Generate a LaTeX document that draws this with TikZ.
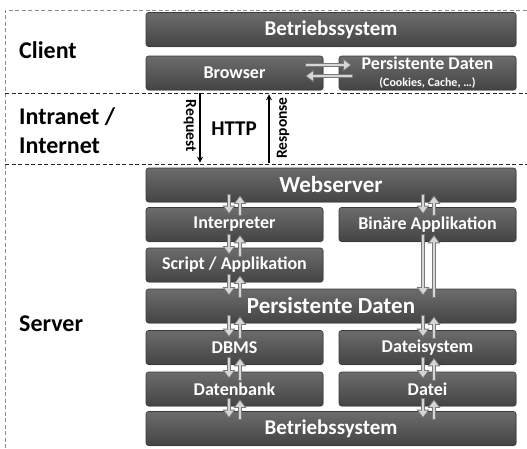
\documentclass[tikz,border=0pt]{standalone}
\usepackage{fontspec}
\setmainfont{Carlito}
\usetikzlibrary{arrows.meta,calc,shadows}
\definecolor{boxtop}{HTML}{6C6C6C}
\definecolor{boxbot}{HTML}{444444}
\definecolor{boxline}{HTML}{3A3A3A}
\definecolor{arrfill}{HTML}{D6D6D6}
\definecolor{arrline}{HTML}{7A7A7A}
\newcommand\fs[1]{\fontsize{#1}{#1}\selectfont\bfseries}
\newcommand\udarrows[4]{%
  \draw[garo] ($(#3,0 |- #1.south)+(0,-8)$) -- ($(#3,0 |- #2.north)+(0,7)$);
  \draw[gari] ($(#3,0 |- #1.south)+(0,-8)$) -- ($(#3,0 |- #2.north)+(0,7)$);
  \draw[garo] ($(#4,0 |- #2.north)+(0,9)$) -- ($(#4,0 |- #1.south)+(0,-7)$);
  \draw[gari] ($(#4,0 |- #2.north)+(0,9)$) -- ($(#4,0 |- #1.south)+(0,-7)$);
}
\begin{document}
\begin{tikzpicture}[x=1pt,y=-1pt,
  box/.style={draw=boxline, line width=0.6pt, rounded corners=2.5pt,
    top color=boxtop, bottom color=boxbot, text=white, inner sep=0pt,
    minimum height=34pt, font=\fs{18},
    drop shadow={opacity=0.3, shadow xshift=0.8pt, shadow yshift=-0.8pt}},
  wide/.style={box, minimum width=370pt},
  half/.style={box, minimum width=177pt},
  lbl/.style={anchor=west, font=\fs{24}, inner sep=0pt},
  garo/.style={line width=4pt, draw=arrline, -{Triangle[length=8.5pt,width=12pt]}},
  gari/.style={line width=2.2pt, draw=arrfill, shorten >=1.5pt, shorten <=0.9pt,
    -{Triangle[length=6pt,width=8.5pt]}},
  http/.style={line width=1.2pt, -{Stealth[length=6pt,width=6pt]}},
  divider/.style={dash pattern=on 4pt off 2.5pt, line width=0.8pt, black!85},
]
\useasboundingbox (0,0) rectangle (527,448);
% frame and dividers
\draw[dash pattern=on 4pt off 2.5pt, line width=0.7pt, black!45] (5,448) -- (5,10) -- (527,10);
\draw[divider] (5,93) -- (527,93);
\draw[divider] (5,164) -- (527,164);

% labels
\node[lbl] (lclient) at (19,50) {Client};
\node[lbl, align=left, font=\fontsize{24}{29}\selectfont\bfseries] (lnet) at (19,131) {Intranet /\\Internet};
\node[lbl] (lserver) at (19,324) {Server};

% client boxes
\node[wide, font=\fs{21}] (os1) at (331,29.5) {Betriebssystem};
\node[half] (browser) at (234.5,73) {Browser};
\node[half, align=center, font=\fontsize{18}{14}\selectfont\bfseries] (pdc) at (427.5,73)
  {Persistente Daten\\[3pt]{\fontsize{12}{12}\selectfont (Cookies, Cache, …)}};

% server boxes
\node[wide, font=\fs{23}] (web) at (331,185) {Webserver};
\node[half] (interp) at (234.5,224.5) {Interpreter};
\node[half] (binapp) at (427.5,224.5) {Binäre Applikation};
\node[half] (script) at (234.5,265) {Script / Applikation};
\node[wide, font=\fs{23}] (pds) at (331,306) {Persistente Daten};
\node[half] (dbms) at (234.5,347.5) {DBMS};
\node[half] (fsys) at (427.5,347.5) {Dateisystem};
\node[half] (db) at (234.5,389) {Datenbank};
\node[half] (file) at (427.5,389) {Datei};
\node[wide, font=\fs{21}] (os2) at (331,428.5) {Betriebssystem};

% client arrows
\draw[garo] ($(browser.east)+(-18,-8)$) -- ($(pdc.west)+(13,-8)$);
\draw[gari] ($(browser.east)+(-18,-8)$) -- ($(pdc.west)+(13,-8)$);
\draw[garo] ($(pdc.west)+(14,3)$) -- ($(browser.east)+(-18,3)$);
\draw[gari] ($(pdc.west)+(14,3)$) -- ($(browser.east)+(-18,3)$);

% HTTP
\draw[http] ($(200,0 |- browser.south)+(0,3)$) -- ($(200,0 |- web.north)+(0,-5)$);
\draw[http] ($(269,0 |- web.north)+(0,-5)$) -- ($(269,0 |- browser.south)+(0,4)$);
\node[font=\fs{15.5}, rotate=-90, inner sep=0pt] (req) at (190,126) {Request};
\node[font=\fs{15.5}, rotate=90, inner sep=0pt] (resp) at (283,128) {Response};
\node[font=\fs{21}, inner sep=0pt] (httpl) at (234,129) {HTTP};

% server arrows
\udarrows{web}{interp}{229}{240}
\udarrows{web}{binapp}{423}{434}
\udarrows{interp}{script}{229}{240}
\udarrows{script}{pds}{229}{240}
\udarrows{binapp}{pds}{423}{434}
\udarrows{pds}{dbms}{229}{240}
\udarrows{pds}{fsys}{423}{434}
\udarrows{dbms}{db}{229}{240}
\udarrows{fsys}{file}{423}{434}
\udarrows{db}{os2}{229}{240}
\udarrows{file}{os2}{423}{434}
\end{tikzpicture}
\end{document}
